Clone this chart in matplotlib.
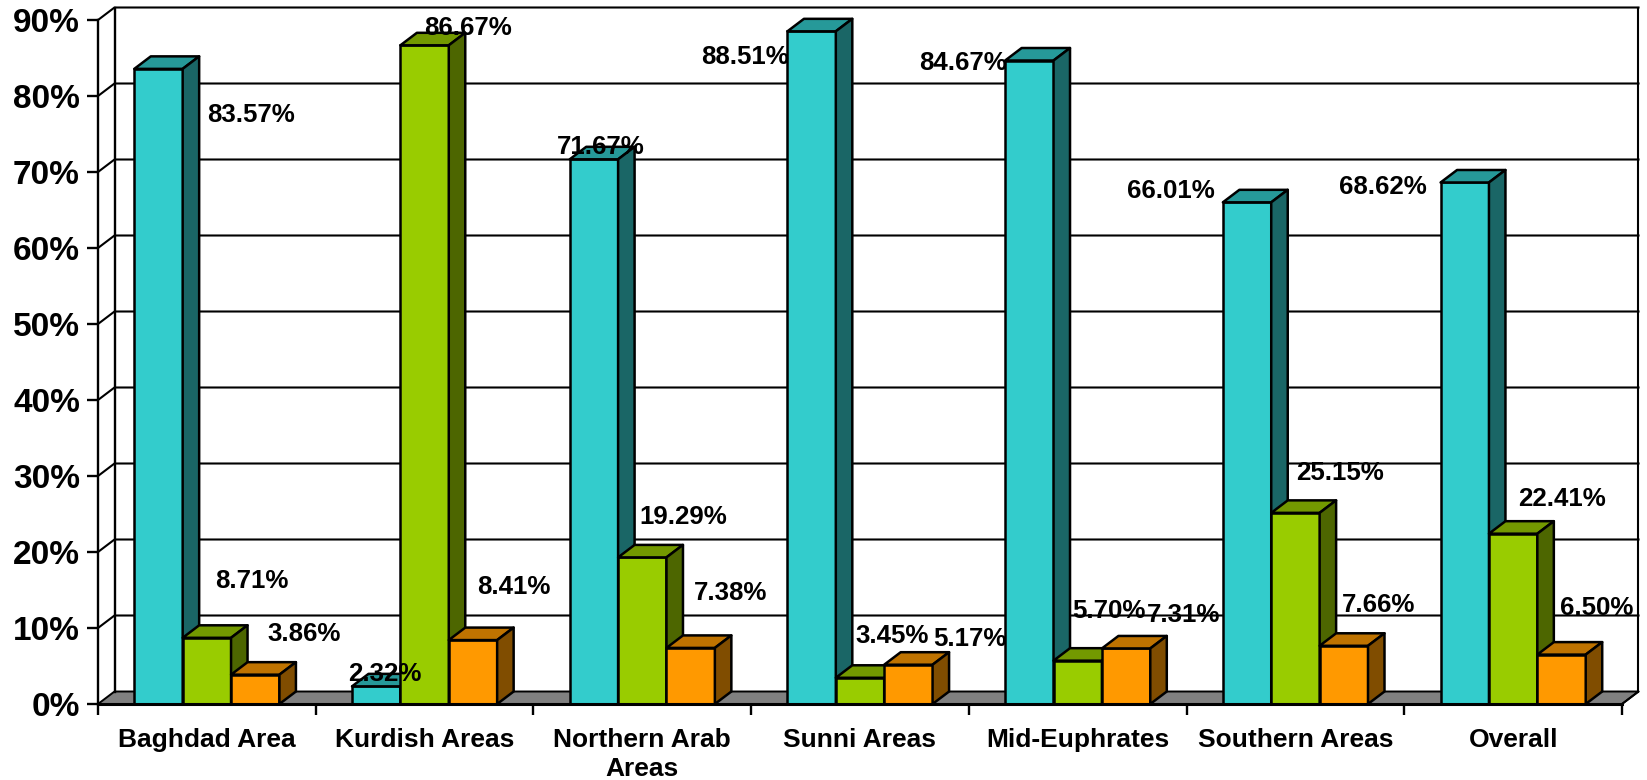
import matplotlib
matplotlib.use("Agg")
import matplotlib.pyplot as plt
from matplotlib.patches import Polygon
import numpy as np

plt.rcParams['font.family'] = ['Liberation Sans', 'DejaVu Sans']
plt.rcParams['font.weight'] = 'bold'

categories = ["Baghdad Area", "Kurdish Areas", "Northern Arab\nAreas", "Sunni Areas",
              "Mid-Euphrates", "Southern Areas", "Overall"]
cyan_values = [83.57, 2.32, 71.67, 88.51, 84.67, 66.01, 68.62]
green_values = [8.71, 86.67, 19.29, 3.45, 5.70, 25.15, 22.41]
orange_values = [3.86, 8.41, 7.38, 5.17, 7.31, 7.66, 6.50]

# label centres in figure pixels, same order as the bars (cyan, green, orange)
cyan_label_px = [(251, 115), (385, 674), (601, 147), (745, 57), (963, 63), (1171, 191), (1383, 187)]
green_label_px = [(252, 581), (468, 28), (683, 517), (892, 636), (1109, 611), (1340, 473), (1562, 499)]
orange_label_px = [(304, 634), (514, 587), (731, 593), (970, 639), (1184, 615), (1379, 605), (1597, 608)]

W, H = 1647, 780
fig = plt.figure(figsize=(W / 100, H / 100), dpi=100)
ax = fig.add_axes([98 / W, 1 - 704 / H, 1524 / W, 684 / H])
ax.set_xlim(0, 7)
ax.set_ylim(0, 90)

# depth of the fake 3d, in data units
dx = 16.5 / (1524 / 7)
dy = 12.5 / (684 / 90)
bar_w = 1 / 4.5

for s in ['top', 'right']:
    ax.spines[s].set_visible(False)
ax.spines['left'].set_linewidth(1.7)
ax.spines['bottom'].set_linewidth(2.2)
ax.spines['bottom'].set_zorder(50)

ax.set_yticks(np.arange(0, 100, 10))
ax.set_yticklabels([f"{v}%" for v in range(0, 100, 10)], fontsize=24, fontweight='bold')
ax.tick_params(axis='y', length=8, width=1.7, pad=5)
ax.set_xticks(range(8))
ax.set_xticklabels([])
ax.tick_params(axis='x', length=8, width=1.7)
ax.set_xticks(np.arange(7) + 0.5, minor=True)
ax.set_xticklabels(categories, minor=True, fontsize=19, fontweight='bold', linespacing=1.3)
ax.tick_params(axis='x', which='minor', length=0, pad=17)

# floor and walls
ax.add_patch(Polygon([(0, 0), (7, 0), (7 + dx, dy), (dx, dy)], fc='#808080', ec='black', lw=1.4,
                     zorder=1, clip_on=False))
for v in range(10, 100, 10):
    ax.plot([0, dx, 7 + dx], [v, v + dy, v + dy], color='black', lw=1.5, zorder=2, clip_on=False)
ax.plot([dx, dx], [dy, 90 + dy], color='black', lw=1.7, zorder=2, clip_on=False)
ax.plot([7 + dx, 7 + dx], [dy, 90 + dy], color='black', lw=1.5, zorder=2, clip_on=False)
ax.plot([7, 7 + dx], [0, dy], color='black', lw=1.4, zorder=2, clip_on=False)


def draw_bar(x, v, front, top, side, z):
    ax.bar(x, v, width=bar_w, align='edge', color=front, edgecolor='black', linewidth=1.8, zorder=z)
    ax.add_patch(Polygon([(x, v), (x + bar_w, v), (x + bar_w + dx, v + dy), (x + dx, v + dy)],
                         fc=top, ec='black', lw=1.8, zorder=z, clip_on=False, joinstyle='round'))
    ax.add_patch(Polygon([(x + bar_w, 0), (x + bar_w + dx, dy), (x + bar_w + dx, v + dy), (x + bar_w, v)],
                         fc=side, ec='black', lw=1.8, zorder=z, clip_on=False, joinstyle='round'))


series = [
    (cyan_values, '#33CCCC', '#269999', '#1A6666'),
    (green_values, '#99CC00', '#739900', '#4D6600'),
    (orange_values, '#FF9900', '#BF7300', '#804D00'),
]
for i in range(len(categories)):
    start = i + bar_w * 0.75
    for j, (vals, front, top, side) in enumerate(series):
        draw_bar(start + j * bar_w, vals[i], front, top, side, 3 + i + j * 0.1)

for vals, pts in [(cyan_values, cyan_label_px), (green_values, green_label_px), (orange_values, orange_label_px)]:
    for v, (px, py) in zip(vals, pts):
        fig.text(px / W, 1 - py / H, f"{v:.2f}%", fontsize=18.6, fontweight='bold',
                 ha='center', va='center', zorder=60)

fig.savefig("out.png", dpi=100)
